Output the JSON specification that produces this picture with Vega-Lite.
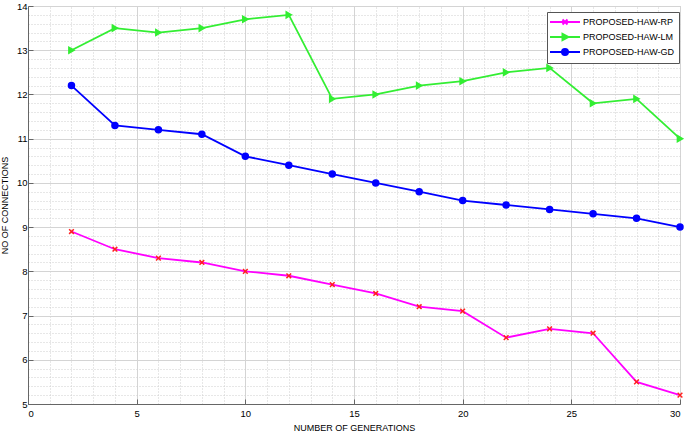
{
  "$schema": "https://vega.github.io/schema/vega-lite/v6.json",
  "width": 652,
  "height": 398,
  "autosize": {"type": "none"},
  "padding": {"left": 28, "top": 6, "right": 5, "bottom": 40},
  "background": "white",
  "config": {
    "view": {"stroke": "#bdbdbd"},
    "font": "Liberation Sans",
    "axis": {"labelFont": "Liberation Sans", "titleFont": "Liberation Sans"}
  },
  "data": {
    "values": [
      {"x": 2, "y": 8.9, "series": "PROPOSED-HAW-RP"},
      {"x": 4, "y": 8.5, "series": "PROPOSED-HAW-RP"},
      {"x": 6, "y": 8.3, "series": "PROPOSED-HAW-RP"},
      {"x": 8, "y": 8.2, "series": "PROPOSED-HAW-RP"},
      {"x": 10, "y": 8.0, "series": "PROPOSED-HAW-RP"},
      {"x": 12, "y": 7.9, "series": "PROPOSED-HAW-RP"},
      {"x": 14, "y": 7.7, "series": "PROPOSED-HAW-RP"},
      {"x": 16, "y": 7.5, "series": "PROPOSED-HAW-RP"},
      {"x": 18, "y": 7.2, "series": "PROPOSED-HAW-RP"},
      {"x": 20, "y": 7.1, "series": "PROPOSED-HAW-RP"},
      {"x": 22, "y": 6.5, "series": "PROPOSED-HAW-RP"},
      {"x": 24, "y": 6.7, "series": "PROPOSED-HAW-RP"},
      {"x": 26, "y": 6.6, "series": "PROPOSED-HAW-RP"},
      {"x": 28, "y": 5.5, "series": "PROPOSED-HAW-RP"},
      {"x": 30, "y": 5.2, "series": "PROPOSED-HAW-RP"},
      {"x": 2, "y": 13.0, "series": "PROPOSED-HAW-LM"},
      {"x": 4, "y": 13.5, "series": "PROPOSED-HAW-LM"},
      {"x": 6, "y": 13.4, "series": "PROPOSED-HAW-LM"},
      {"x": 8, "y": 13.5, "series": "PROPOSED-HAW-LM"},
      {"x": 10, "y": 13.7, "series": "PROPOSED-HAW-LM"},
      {"x": 12, "y": 13.8, "series": "PROPOSED-HAW-LM"},
      {"x": 14, "y": 11.9, "series": "PROPOSED-HAW-LM"},
      {"x": 16, "y": 12.0, "series": "PROPOSED-HAW-LM"},
      {"x": 18, "y": 12.2, "series": "PROPOSED-HAW-LM"},
      {"x": 20, "y": 12.3, "series": "PROPOSED-HAW-LM"},
      {"x": 22, "y": 12.5, "series": "PROPOSED-HAW-LM"},
      {"x": 24, "y": 12.6, "series": "PROPOSED-HAW-LM"},
      {"x": 26, "y": 11.8, "series": "PROPOSED-HAW-LM"},
      {"x": 28, "y": 11.9, "series": "PROPOSED-HAW-LM"},
      {"x": 30, "y": 11.0, "series": "PROPOSED-HAW-LM"},
      {"x": 2, "y": 12.2, "series": "PROPOSED-HAW-GD"},
      {"x": 4, "y": 11.3, "series": "PROPOSED-HAW-GD"},
      {"x": 6, "y": 11.2, "series": "PROPOSED-HAW-GD"},
      {"x": 8, "y": 11.1, "series": "PROPOSED-HAW-GD"},
      {"x": 10, "y": 10.6, "series": "PROPOSED-HAW-GD"},
      {"x": 12, "y": 10.4, "series": "PROPOSED-HAW-GD"},
      {"x": 14, "y": 10.2, "series": "PROPOSED-HAW-GD"},
      {"x": 16, "y": 10.0, "series": "PROPOSED-HAW-GD"},
      {"x": 18, "y": 9.8, "series": "PROPOSED-HAW-GD"},
      {"x": 20, "y": 9.6, "series": "PROPOSED-HAW-GD"},
      {"x": 22, "y": 9.5, "series": "PROPOSED-HAW-GD"},
      {"x": 24, "y": 9.4, "series": "PROPOSED-HAW-GD"},
      {"x": 26, "y": 9.3, "series": "PROPOSED-HAW-GD"},
      {"x": 28, "y": 9.2, "series": "PROPOSED-HAW-GD"},
      {"x": 30, "y": 9.0, "series": "PROPOSED-HAW-GD"}
    ]
  },
  "resolve": {"axis": {"x": "independent", "y": "independent"}},
  "layer": [
    {
      "mark": {"type": "line", "strokeWidth": 1.8},
      "encoding": {
        "x": {
          "field": "x", "type": "quantitative",
          "scale": {"domain": [0, 30], "nice": false},
          "axis": {"orient": "top", "values": [1,2,3,4,6,7,8,9,11,12,13,14,16,17,18,19,21,22,23,24,26,27,28,29], "grid": true, "gridDash": [1, 2], "gridColor": "#cfcfcf", "labels": false, "ticks": false, "domain": false, "title": null}
        },
        "y": {
          "field": "y", "type": "quantitative",
          "scale": {"domain": [5, 14], "nice": false, "zero": false},
          "axis": {"orient": "right", "values": [5.2,5.4,5.6,5.8,6.2,6.4,6.6,6.8,7.2,7.4,7.6,7.8,8.2,8.4,8.6,8.8,9.2,9.4,9.6,9.8,10.2,10.4,10.6,10.8,11.2,11.4,11.6,11.8,12.2,12.4,12.6,12.8,13.2,13.4,13.6,13.8], "grid": true, "gridDash": [1, 2], "gridColor": "#cfcfcf", "labels": false, "ticks": false, "domain": false, "title": null}
        },
        "color": {
          "field": "series", "type": "nominal",
          "scale": {"domain": ["PROPOSED-HAW-RP", "PROPOSED-HAW-LM", "PROPOSED-HAW-GD"], "range": ["#ff00ff", "#33ee33", "#0000ff"]},
          "legend": {
            "title": null,
            "orient": "none",
            "legendX": 519,
            "legendY": 6,
            "fillColor": "white",
            "strokeColor": "#555555",
            "padding": 4,
            "rowPadding": 1,
            "labelFont": "Liberation Sans",
            "labelFontSize": 9,
            "labelColor": "black",
            "symbolSize": 100,
            "symbolOffset": 8,
            "labelOffset": 12,
            "symbolStrokeWidth": 2,
            "encode": {
              "symbols": {
                "update": {
                  "shape": {"signal": "datum.value === 'PROPOSED-HAW-RP' ? 'M-3,0H3M-0.5,-0.5L0.5,0.5M-0.5,0.5L0.5,-0.5' : datum.value === 'PROPOSED-HAW-LM' ? 'M-3,0H3M-0.5,-0.6L0.65,0L-0.5,0.6Z' : 'M-3,0H3M0.6,0A0.6,0.6,0,1,1,-0.6,0A0.6,0.6,0,1,1,0.6,0Z'"},
                  "fill": {"signal": "datum.value === 'PROPOSED-HAW-RP' ? 'transparent' : scale('color', datum.value)"}
                }
              }
            }
          }
        }
      }
    },
    {
      "mark": {"type": "point", "strokeWidth": 1.5, "opacity": 1},
      "encoding": {
        "x": {
          "field": "x", "type": "quantitative",
          "scale": {"domain": [0, 30], "nice": false},
          "axis": {"orient": "bottom", "values": [0, 5, 10, 15, 20, 25, 30], "grid": true, "gridColor": "#d4d4d4", "domainColor": "#666666", "tickColor": "#666666", "tickSize": -5, "labelPadding": 9, "labelFontSize": 9.5, "labelColor": "black", "title": "NUMBER OF GENERATIONS", "titleFontSize": 9, "titleFontWeight": "normal", "titleColor": "black", "titlePadding": 6}
        },
        "y": {
          "field": "y", "type": "quantitative",
          "scale": {"domain": [5, 14], "nice": false, "zero": false},
          "axis": {"orient": "left", "values": [5, 6, 7, 8, 9, 10, 11, 12, 13, 14], "grid": true, "gridColor": "#d4d4d4", "domainColor": "#666666", "tickColor": "#666666", "tickSize": -5, "labelPadding": 6, "labelFontSize": 9.5, "labelColor": "black", "title": "NO OF CONNECTIONS", "titleFontSize": 9, "titleFontWeight": "normal", "titleColor": "black", "titlePadding": 7}
        },
        "shape": {
          "condition": [
            {"test": "datum.series === 'PROPOSED-HAW-RP'", "value": "M-1,-1L1,1M-1,1L1,-1"},
            {"test": "datum.series === 'PROPOSED-HAW-LM'", "value": "triangle-right"}
          ],
          "value": "circle"
        },
        "fill": {
          "condition": [
            {"test": "datum.series === 'PROPOSED-HAW-RP'", "value": "transparent"},
            {"test": "datum.series === 'PROPOSED-HAW-LM'", "value": "#33ee33"}
          ],
          "value": "#0000ff"
        },
        "stroke": {
          "condition": [
            {"test": "datum.series === 'PROPOSED-HAW-RP'", "value": "#ff2020"},
            {"test": "datum.series === 'PROPOSED-HAW-LM'", "value": "#33ee33"}
          ],
          "value": "#0000ff"
        },
        "size": {
          "condition": [
            {"test": "datum.series === 'PROPOSED-HAW-RP'", "value": 22},
            {"test": "datum.series === 'PROPOSED-HAW-LM'", "value": 36}
          ],
          "value": 36
        }
      }
    }
  ]
}
